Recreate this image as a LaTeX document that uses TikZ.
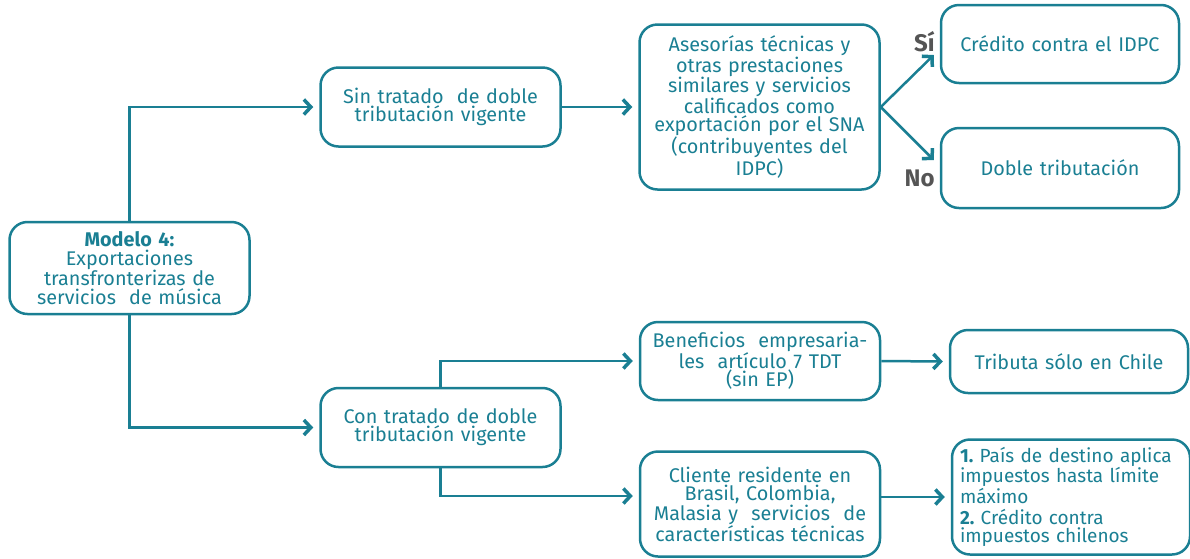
\documentclass[tikz,border=0pt]{standalone}
\usepackage{fontspec}
\setmainfont{Fira Sans}
\usepackage{tikz}
\usetikzlibrary{calc, arrows.meta}
\definecolor{petrol}{HTML}{1A7F93}
\definecolor{gris}{HTML}{555555}
\frenchspacing
\tikzstyle{caja} = [rectangle, rounded corners=18pt, draw=petrol, line width=2.5pt, minimum width=240pt, text width=234pt, align=center, text=petrol, inner sep=0pt, font=\fontsize{19.8}{18.3}\selectfont]
\tikzstyle{flecha} = [draw=petrol, line width=2.5pt, -{Straight Barb[length=7pt, width=15pt, line width=3.5pt]}]
\tikzstyle{rama} = [text=gris, font=\bfseries\fontsize{24}{24}\selectfont, inner sep=0pt]

\begin{document}
\begin{tikzpicture}[x=1pt, y=-1pt]

        \useasboundingbox (0,0) rectangle (1190,558);

        \node (modelo) [caja, minimum height=92pt] at (129.5,268) {\textbf{Modelo 4:}\\ Exportaciones\\ transfronterizas de\\ servicios\ \ de música};

        \node (sintratado) [caja, minimum height=79pt] at (440.5,107) {Sin tratado\ \ de doble\\ tributación vigente};
        \node (asesorias) [caja, minimum height=165pt] at (759.5,107) {Asesorías técnicas y\\ otras prestaciones\\ similares y servicios\\ calificados como\\ exportación por el SNA\\ (contribuyentes del\\ IDPC)};
        \node (credito) [caja, minimum height=78pt, minimum width=238pt] at (1060,44) {Crédito contra el IDPC};
        \node (doble) [caja, minimum height=80pt, minimum width=238pt] at (1060,168) {Doble tributación};

        \node (contratado) [caja, minimum height=79pt] at (440.5,427.5) {Con tratado de doble\\ tributación vigente};
        \node (beneficios) [caja, minimum height=78pt] at (760,361) {Beneficios\ \ empresaria-\\ les\ \ artículo 7 TDT\\ (sin EP)};
        \node (cliente) [caja, minimum height=105pt] at (760,504) {Cliente residente en\\ Brasil, Colombia,\\ Malasia y\ \ servicios\ \ de\\ características técnicas};
        \node (tributa) [caja, minimum height=63pt, minimum width=238pt] at (1069,361.5) {Tributa sólo en Chile};
        \node (pais) [caja, minimum height=115pt, minimum width=238pt, align=left, text width=222pt, font=\fontsize{19}{17.6}\selectfont] at (1071,497) {\textbf{1.} País de destino aplica\\ impuestos hasta límite\\ máximo\\[4pt] \textbf{2.} Crédito contra\\ impuestos chilenos};

        \node (si) [rama, anchor=east] at ([xshift=-5pt, yshift=2pt]credito.west) {Sí};
        \node (no) [rama, anchor=east] at ([xshift=-5pt, yshift=-10pt]doble.west) {No};

        \draw [flecha] (modelo.north) |- ([xshift=-6pt]sintratado.west);
        \draw [flecha] (modelo.south) |- ([xshift=-6pt]contratado.west);
        \draw [flecha] (sintratado.east) -- ([xshift=-6pt]asesorias.west);
        \draw [flecha] (asesorias.east) -- ([xshift=-6pt, yshift=-11pt]credito.west);
        \draw [flecha] (asesorias.east) -- ([xshift=-6pt, yshift=8pt]doble.west);
        \draw [flecha] (contratado.north) |- ([xshift=-6pt]beneficios.west);
        \draw [flecha] (contratado.south) |- ([xshift=-6pt, yshift=8pt]cliente.west);
        \draw [flecha] (beneficios.east) -- ([xshift=-6pt]tributa.west);
        \draw [flecha] ([yshift=7pt]cliente.east) -- ([xshift=-6pt]pais.west);

    \end{tikzpicture}
\end{document}
